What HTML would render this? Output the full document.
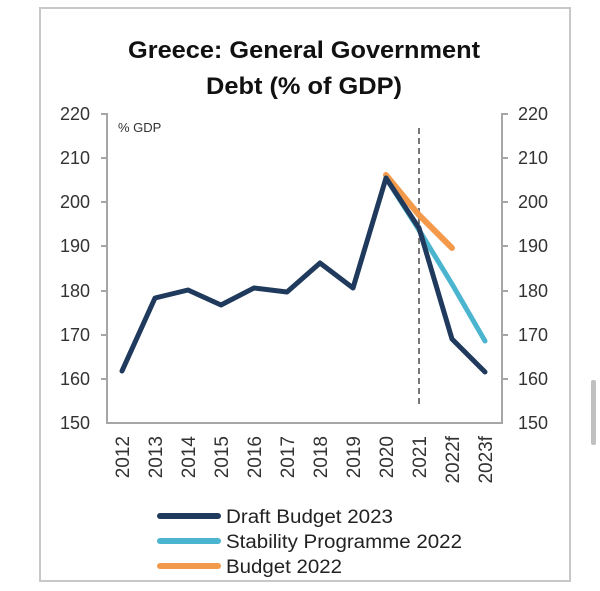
<!DOCTYPE html>
<html><head><meta charset="utf-8"><style>
html,body{margin:0;padding:0;background:#fff;}
svg{display:block;font-family:"Liberation Sans",sans-serif;}
</style></head><body>
<svg width="600" height="591" viewBox="0 0 600 591">
<rect x="40" y="8" width="530" height="573" fill="#fff" stroke="#c8c8c8" stroke-width="2"/>
<rect x="591" y="380" width="5" height="65" rx="2" fill="#c0c0c0"/>
<text x="304" y="58" text-anchor="middle" font-size="24" font-weight="bold" fill="#111" textLength="352" lengthAdjust="spacingAndGlyphs">Greece: General Government</text>
<text x="304" y="94" text-anchor="middle" font-size="24" font-weight="bold" fill="#111" textLength="196" lengthAdjust="spacingAndGlyphs">Debt (% of GDP)</text>
<g stroke="#a6a6a6" stroke-width="2" fill="none">
<path d="M101 114 H107 V423 H502 V114 H508"/>
<path d="M101 158 H107 M101 202 H107 M101 246 H107 M101 291 H107 M101 335 H107 M101 379 H107"/>
<path d="M502 158 H508 M502 202 H508 M502 246 H508 M502 291 H508 M502 335 H508 M502 379 H508"/>
</g>
<g font-size="18" fill="#333" text-anchor="end">
<text x="90" y="120">220</text><text x="90" y="164">210</text><text x="90" y="208">200</text><text x="90" y="252">190</text><text x="90" y="297">180</text><text x="90" y="341">170</text><text x="90" y="385">160</text><text x="90" y="429">150</text>
</g>
<g font-size="18" fill="#333" text-anchor="start">
<text x="518" y="120">220</text><text x="518" y="164">210</text><text x="518" y="208">200</text><text x="518" y="252">190</text><text x="518" y="297">180</text><text x="518" y="341">170</text><text x="518" y="385">160</text><text x="518" y="429">150</text>
</g>
<text x="118" y="132" font-size="13" fill="#333">% GDP</text>
<g font-size="19" fill="#333" text-anchor="end">
<text transform="translate(129,436) rotate(-90)">2012</text>
<text transform="translate(162,436) rotate(-90)">2013</text>
<text transform="translate(195,436) rotate(-90)">2014</text>
<text transform="translate(228,436) rotate(-90)">2015</text>
<text transform="translate(261,436) rotate(-90)">2016</text>
<text transform="translate(294,436) rotate(-90)">2017</text>
<text transform="translate(327,436) rotate(-90)">2018</text>
<text transform="translate(360,436) rotate(-90)">2019</text>
<text transform="translate(393,436) rotate(-90)">2020</text>
<text transform="translate(426,436) rotate(-90)">2021</text>
<text transform="translate(459,436) rotate(-90)">2022f</text>
<text transform="translate(492,436) rotate(-90)">2023f</text>
</g>
<line x1="419" y1="128" x2="419" y2="405" stroke="#777" stroke-width="2" stroke-dasharray="6,4"/>
<polyline fill="none" stroke="#f39a4a" stroke-width="6" stroke-linecap="round" stroke-linejoin="round" points="386,175 419,215 452,248"/>
<polyline fill="none" stroke="#4bb5cf" stroke-width="5" stroke-linecap="round" stroke-linejoin="round" points="386,178 419,230 452,284 485,341"/>
<polyline fill="none" stroke="#1f3a5c" stroke-width="5" stroke-linecap="round" stroke-linejoin="round" points="122,371 155,298 188,290 221,305 254,288 287,292 320,263 353,288 386,178 419,228 452,339 485,372"/>
<g stroke-width="6" stroke-linecap="round">
<line x1="160" y1="516" x2="218" y2="516" stroke="#1f3a5c"/>
<line x1="160" y1="541" x2="218" y2="541" stroke="#4bb5cf"/>
<line x1="160" y1="566" x2="218" y2="566" stroke="#f39a4a"/>
</g>
<g font-size="19" fill="#222">
<text x="226" y="523" textLength="167" lengthAdjust="spacingAndGlyphs">Draft Budget 2023</text>
<text x="226" y="548" textLength="236" lengthAdjust="spacingAndGlyphs">Stability Programme 2022</text>
<text x="226" y="573" textLength="116" lengthAdjust="spacingAndGlyphs">Budget 2022</text>
</g>
</svg>
</body></html>
